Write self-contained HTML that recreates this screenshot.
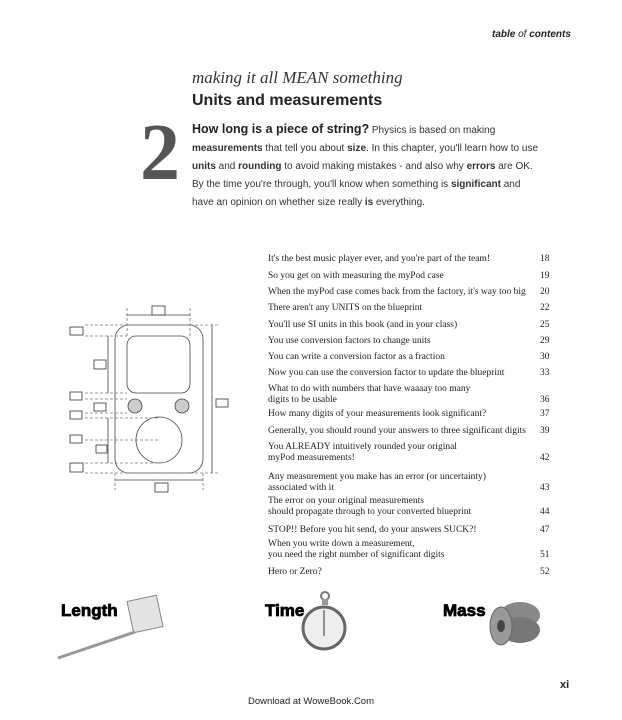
<!DOCTYPE html>
<html><head><style>
body{margin:0;width:622px;height:720px;background:#fff;position:relative;overflow:hidden;font-family:"Liberation Sans",sans-serif;color:#222}
.a{position:absolute;white-space:nowrap}
.toc{position:absolute;left:268px;font-family:"Liberation Serif",serif;font-size:9.5px;line-height:11px;color:#222}
.n{position:absolute;left:540px;font-family:"Liberation Serif",serif;font-size:9.5px;color:#222}
.b{font-weight:bold}
.big{font-family:"Liberation Sans",sans-serif;font-weight:900;font-size:17px;-webkit-text-stroke:0.8px #000;color:#000}
</style></head><body>
<div class="a" style="left:492px;top:29px;font-size:10px;font-weight:bold;font-style:italic">table <span style="font-weight:normal">of</span> contents</div>
<div class="a" style="left:192px;top:68px;font-family:'Liberation Serif',serif;font-size:17px;font-style:italic;color:#333">making it all MEAN something</div>
<div class="a" style="left:192px;top:92px;font-size:16px;font-weight:bold">Units and measurements</div>
<div class="a" style="left:140px;top:108px;font-family:'Liberation Serif',serif;font-size:80px;font-weight:bold;color:#555">2</div>
<div class="a" style="left:192px;top:120px;font-size:10px;line-height:18px;color:#333">
<span style="font-size:12.5px;font-weight:bold;color:#222">How long is a piece of string?</span> Physics is based on making<br>
<b>measurements</b> that tell you about <b>size</b>. In this chapter, you'll learn how to use<br>
<b>units</b> and <b>rounding</b> to avoid making mistakes - and also why <b>errors</b> are OK.<br>
By the time you're through, you'll know when something is <b>significant</b> and<br>
have an opinion on whether size really <b>is</b> everything.</div>

<div class="toc" style="top:254px">It's the best music player ever, and you're part of the team!</div><div class="n" style="top:254px">18</div>
<div class="toc" style="top:271px">So you get on with measuring the myPod case</div><div class="n" style="top:271px">19</div>
<div class="toc" style="top:287px">When the myPod case comes back from the factory, it's way too big</div><div class="n" style="top:287px">20</div>
<div class="toc" style="top:303px">There aren't any UNITS on the blueprint</div><div class="n" style="top:303px">22</div>
<div class="toc" style="top:320px">You'll use SI units in this book (and in your class)</div><div class="n" style="top:320px">25</div>
<div class="toc" style="top:336px">You use conversion factors to change units</div><div class="n" style="top:336px">29</div>
<div class="toc" style="top:352px">You can write a conversion factor as a fraction</div><div class="n" style="top:352px">30</div>
<div class="toc" style="top:368px">Now you can use the conversion factor to update the blueprint</div><div class="n" style="top:368px">33</div>
<div class="toc" style="top:384px">What to do with numbers that have waaaay too many<br>digits to be usable</div><div class="n" style="top:395px">36</div>
<div class="toc" style="top:409px">How many digits of your measurements look significant?</div><div class="n" style="top:409px">37</div>
<div class="toc" style="top:426px">Generally, you should round your answers to three significant digits</div><div class="n" style="top:426px">39</div>
<div class="toc" style="top:442px">You ALREADY intuitively rounded your original<br>myPod measurements!</div><div class="n" style="top:453px">42</div>
<div class="toc" style="top:472px">Any measurement you make has an error (or uncertainty)<br>associated with it</div><div class="n" style="top:483px">43</div>
<div class="toc" style="top:496px">The error on your original measurements<br>should propagate through to your converted blueprint</div><div class="n" style="top:507px">44</div>
<div class="toc" style="top:525px">STOP!! Before you hit send, do your answers SUCK?!</div><div class="n" style="top:525px">47</div>
<div class="toc" style="top:539px">When you write down a measurement,<br>you need the right number of significant digits</div><div class="n" style="top:550px">51</div>
<div class="toc" style="top:567px">Hero or Zero?</div><div class="n" style="top:567px">52</div>

<svg class="a" style="left:60px;top:280px" width="200" height="220" viewBox="0 0 200 220" fill="none" stroke="#444" stroke-width="0.8">
<rect x="55" y="45" width="88" height="148" rx="14"/>
<rect x="67" y="56" width="63" height="57" rx="9"/>
<circle cx="75" cy="126" r="7" fill="#ccc"/><circle cx="122" cy="126" r="7" fill="#ccc"/>
<circle cx="99" cy="160" r="23"/>
<g stroke-dasharray="3,2" stroke="#777">
<line x1="25" y1="45" x2="160" y2="45"/><line x1="25" y1="56" x2="67" y2="56"/>
<line x1="25" y1="113" x2="67" y2="113"/><line x1="25" y1="119" x2="67" y2="119"/>
<line x1="25" y1="133" x2="67" y2="133"/><line x1="25" y1="138" x2="99" y2="138"/>
<line x1="25" y1="160" x2="99" y2="160"/><line x1="25" y1="183" x2="99" y2="183"/>
<line x1="25" y1="193" x2="160" y2="193"/><line x1="55" y1="193" x2="55" y2="210"/><line x1="143" y1="193" x2="143" y2="210"/>
<line x1="67" y1="28" x2="67" y2="56"/><line x1="130" y1="28" x2="130" y2="56"/>
</g>
<line x1="67" y1="35" x2="130" y2="35"/><line x1="55" y1="200" x2="143" y2="200"/>
<line x1="152" y1="45" x2="152" y2="193"/><line x1="48" y1="56" x2="48" y2="113"/><line x1="48" y1="138" x2="48" y2="183"/>
<g fill="#fff" stroke="#333" stroke-width="0.8">
<rect x="92" y="26" width="13" height="9"/><rect x="34" y="80" width="12" height="9"/><rect x="10" y="47" width="13" height="8"/>
<rect x="10" y="112" width="12" height="8"/><rect x="34" y="123" width="12" height="8"/><rect x="10" y="131" width="12" height="8"/>
<rect x="10" y="155" width="12" height="8"/><rect x="36" y="165" width="11" height="8"/><rect x="10" y="183" width="13" height="9"/>
<rect x="95" y="203" width="13" height="9"/><rect x="156" y="119" width="12" height="8"/></g>
</svg>

<div class="a big" style="left:61px;top:601px">Length</div>
<svg class="a" style="left:55px;top:588px" width="110" height="75"><rect x="75" y="10" width="30" height="32" fill="#e4e4e4" stroke="#888" transform="rotate(-12 90 26)"/><line x1="3" y1="70" x2="80" y2="44" stroke="#999" stroke-width="3"/></svg>
<div class="a big" style="left:265px;top:601px">Time</div>
<svg class="a" style="left:300px;top:588px" width="50" height="70"><circle cx="25" cy="8" r="4" fill="none" stroke="#777" stroke-width="2"/><rect x="22" y="11" width="6" height="6" fill="#999"/><circle cx="24" cy="40" r="21" fill="#eee" stroke="#666" stroke-width="3"/><line x1="24" y1="22" x2="24" y2="48" stroke="#333"/></svg>
<div class="a big" style="left:443px;top:601px">Mass</div>
<svg class="a" style="left:484px;top:590px" width="60" height="60"><ellipse cx="36" cy="25" rx="20" ry="13" fill="#888"/><ellipse cx="36" cy="40" rx="20" ry="13" fill="#777"/><ellipse cx="17" cy="36" rx="11" ry="19" fill="#999" stroke="#666"/><ellipse cx="17" cy="36" rx="4" ry="6" fill="#444"/></svg>

<div class="a" style="left:560px;top:679px;font-size:11px;font-weight:bold">xi</div>
<div class="a" style="left:0;width:622px;text-align:center;top:696px;font-size:9.5px">Download at WoweBook.Com</div>
</body></html>
